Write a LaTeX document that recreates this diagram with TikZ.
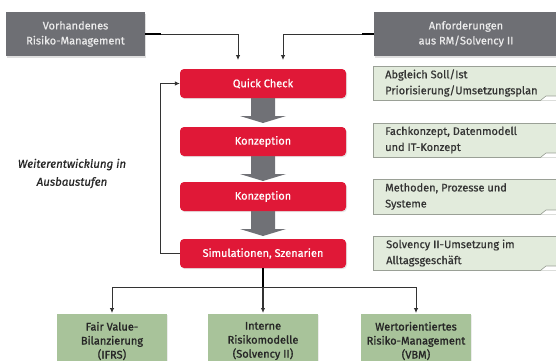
\documentclass[tikz,border=0pt]{standalone}
\usepackage{fontspec}
\setmainfont{Fira Sans}[UprightFeatures={FakeBold=0.6},ItalicFeatures={FakeBold=0.6}]
\newfontfamily\medfont{Fira Sans}[UprightFeatures={FakeBold=1.3}]
\usetikzlibrary{shadows,arrows.meta,calc}
\definecolor{boxgray}{HTML}{6E6F74}
\definecolor{boxred}{HTML}{E01837}
\definecolor{boxgreen}{HTML}{A8C39A}
\definecolor{notegreen}{HTML}{E2EBDC}
\definecolor{notebord}{HTML}{9AA096}
\definecolor{linec}{HTML}{333333}
\definecolor{arrgray}{HTML}{707176}
\tikzset{
  graybox/.style={fill=boxgray, text=white!92!black, align=center, minimum height=44pt,
    font=\fontsize{11}{15}\selectfont, inner sep=0pt,
    drop shadow={opacity=0.25, shadow xshift=1.2pt, shadow yshift=-1.5pt}},
  redbox/.style={fill=boxred, text=white, rounded corners=4pt, minimum width=166pt,
    minimum height=29pt, inner sep=0pt, font=\fontsize{11}{14}\selectfont,
    drop shadow={opacity=0.2, shadow xshift=1pt, shadow yshift=-1.2pt}},
  notebox/.style={fill=notegreen, draw=notebord, line width=0.6pt, inner sep=0pt,
    drop shadow={opacity=0.15, shadow xshift=1pt, shadow yshift=-1pt}},
  notetext/.style={anchor=west, align=left, text=linec, font=\fontsize{11}{16}\selectfont, inner sep=0pt},
  greenbox/.style={fill=boxgreen, inner sep=0pt,
    drop shadow={opacity=0.15, shadow xshift=1pt, shadow yshift=-1pt}},
  greentext/.style={align=center, text=black!85, font=\medfont\fontsize{11}{14}\selectfont, inner sep=0pt},
  conn/.style={draw=linec, line width=0.8pt, -{Latex[length=5pt,width=4.5pt]}},
  blockarrow/.style={fill=arrgray}
}
\begin{document}
\begin{tikzpicture}[x=1pt,y=-1pt]
\useasboundingbox (0,0) rectangle (556,360);
\clip (0,0) rectangle (556,360);

% gray top boxes
\node[graybox, minimum width=139pt] (vr) at (75.5,34) {Vorhandenes\\Risiko-Management};
\node[graybox, minimum width=184pt] (an) at (466,34) {Anforderungen\\aus RM/Solvency II};

% block arrows between red boxes
\foreach \ya/\yb in {98/123, 156/181, 211/236}{
  \fill[arrgray] (251,\ya) -- (275,\ya) -- (275,\yb-7) -- (286,\yb-7) -- (263,\yb)
     -- (240,\yb-7) -- (251,\yb-7) -- cycle;
}

% red boxes
\node[redbox] (qc) at (263,83.5) {Quick Check};
\node[redbox] (k1) at (263,141.5) {Konzeption};
\node[redbox] (k2) at (263,196.5) {Konzeption};
\node[redbox] (sim) at (263,253.5) {Simulationen, Szenarien};

% note boxes
\foreach \n/\yc/\h in {n1/83/34, n2/140/34, n3/196.5/35, n4/253/34}{
  \path[notebox] (373,\yc-\h/2) rectangle (560,\yc+\h/2);
  \fill[white] (541,\yc+\h/2+0.6) -- (546,\yc+\h/2-4) -- (560,\yc+\h/2-4) -- (560,\yc+\h/2+0.6) -- cycle;
  \draw[notebord, line width=0.6pt] (541,\yc+\h/2) -- (546,\yc+\h/2-4) -- (560,\yc+\h/2-4);
}
\node[notetext] (t1) at (385,83) {Abgleich Soll/Ist\\Priorisierung/Umsetzungsplan};
\node[notetext] (t2) at (385,140) {Fachkonzept, Datenmodell\\und IT-Konzept};
\node[notetext] (t3) at (385,196.5) {Methoden, Prozesse und\\Systeme};
\node[notetext] (t4) at (386,253) {Solvency II-Umsetzung im\\Alltagsgeschäft};

% italic label
\node[align=center, font=\fontsize{11.5}{18}\selectfont\itshape, text=black!85] (we) at (72,173.5)
  {Weiterentwicklung in\\Ausbaustufen};

% green bottom boxes
\path[greenbox] (57,314) rectangle (167,364);
\path[greenbox] (208,314) rectangle (318,364);
\path[greenbox] (361,314) rectangle (471,364);
\node[greentext] (g1) at (112,341) {Fair Value-\\Bilanzierung\\(IFRS)};
\node[greentext] (g2) at (263,341) {Interne\\Risikomodelle\\(Solvency II)};
\node[greentext] (g3) at (416,341) {Wertorientiertes\\Risiko-Management\\(VBM)};

% connectors top
\coordinate (e1) at (238,60);
\coordinate (e2) at (283,60);
\draw[conn] (vr.east) -| (e1);
\draw[conn] (an.west) -| (e2);
\draw[black, line width=1.4pt] (vr.east) -- ++(16,0);
\draw[black, line width=1.4pt] (an.west) -- ++(-12,0);

% feedback loop
\coordinate (fb1) at (160,253.5);
\coordinate (fb2) at (160,83.5);
\draw[conn] (sim.west) -- (fb1) -- (fb2) -- (qc.west);

% bottom distribution
\coordinate (hub) at (263,287);
\coordinate (b1) at (112,287);
\coordinate (b3) at (416,287);
\coordinate (d1) at (112,313);
\coordinate (d2) at (263,313);
\coordinate (d3) at (416,313);
\draw[draw=linec, line width=0.8pt] (b1) -- (b3);
\draw[draw=black, line width=1.6pt] (sim.south) -- (hub);
\draw[conn] (b1) -- (d1);
\draw[conn, line width=1.2pt] (hub) -- (d2);
\draw[conn] (b3) -- (d3);
\end{tikzpicture}
\end{document}
